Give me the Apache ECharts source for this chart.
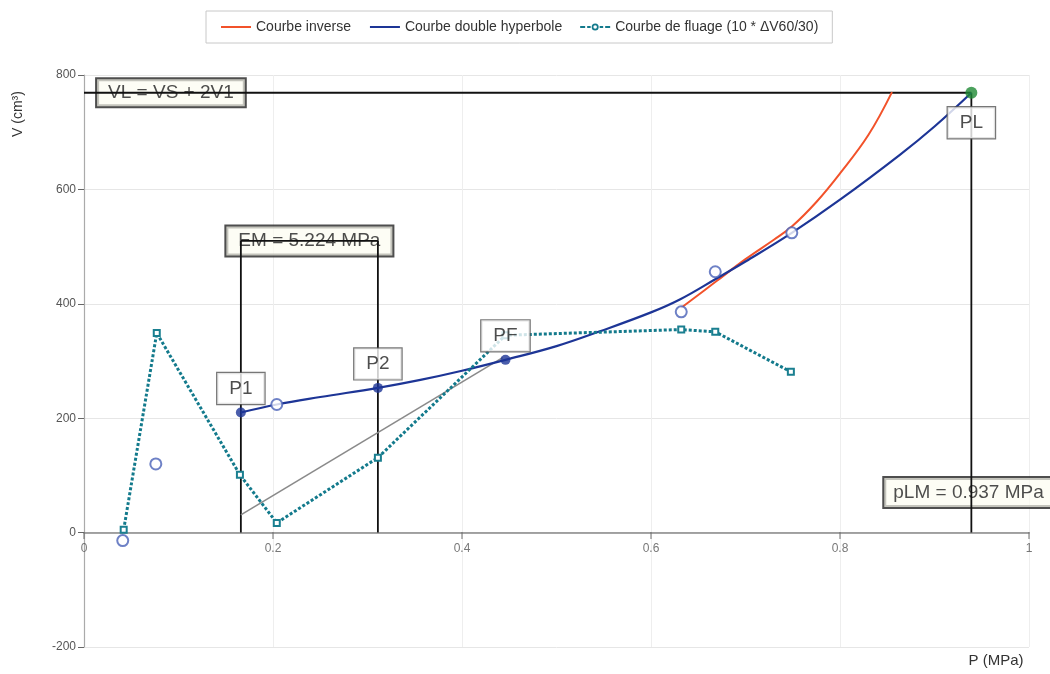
<!DOCTYPE html>
<html><head><meta charset="utf-8">
<script src="https://cdn.jsdelivr.net/npm/echarts@6/dist/echarts.min.js"></script>
<style>html,body{margin:0;padding:0;background:#fff}#c{width:1050px;height:674px}</style>
</head><body><div id="c"></div>
<script>
// ---- data ----
const xTicks = [0, 0.2, 0.4, 0.6, 0.8, 1];
const yTicks = [-200, 0, 200, 400, 600, 800];
const seriesNames = ['Courbe inverse', 'Courbe double hyperbole', 'Courbe de fluage (10 * ΔV60/30)'];

const inverseP = [0.632, 0.668, 0.70, 0.73, 0.749, 0.775, 0.80, 0.83, 0.855];
const inverseV = [393, 438, 478, 512, 535, 578, 628, 695, 770];

const hyperP = [0.166, 0.204, 0.25, 0.311, 0.356, 0.40, 0.446, 0.50, 0.546, 0.60, 0.631, 0.668, 0.70, 0.749, 0.80, 0.863, 0.90, 0.939];
const hyperV = [210, 224, 237, 253, 267, 283, 302, 326, 352, 385, 408, 443, 474, 524, 582, 660, 710, 769];

const fluageP = [0.042, 0.077, 0.165, 0.204, 0.311, 0.446, 0.632, 0.668, 0.748];
const fluageV = [5, 349, 101, 17, 131, 345, 355, 351, 281];

const measuredP = [0.041, 0.076, 0.204, 0.632, 0.668, 0.749];
const measuredV = [-14, 120, 224, 386, 456, 524];

const keyNames = ['P1', 'P2', 'PF'];
const keyP = [0.166, 0.311, 0.446];
const keyV = [210, 253, 302];

const plP = 0.939, plV = 769;
const emSlopeP = [0.166, 0.443];
const emSlopeV = [31, 306];
const emLevel = 510;
const emText = 'EM = 5.224 MPa';
const vlText = 'VL = VS + 2V1';
const plmText = 'pLM = 0.937 MPa';

// ---- chart ----
const zip = (a, b) => a.map((v, i) => [v, b[i]]);
const FONT = 'Liberation Sans, Arial, sans-serif';
const boxLabel = (extra) => Object.assign({
  show: true, color: '#222', fontSize: 19, fontFamily: FONT,
  backgroundColor: '#fff', borderColor: '#333', borderWidth: 1.2,
  padding: [6, 12]
}, extra);
const blackLine = { color: '#111', width: 1.8 };
const fluageIcon = 'path://M0,4H5V6H0Z M7,4H10.5V6H7Z M11.5,5A3.5,3.5 0 1,0 18.5,5A3.5,3.5 0 1,0 11.5,5Z M13.2,5A1.8,1.8 0 1,1 16.8,5A1.8,1.8 0 1,1 13.2,5Z M19.5,4H23V6H19.5Z M25,4H30V6H25Z';

const chart = echarts.init(document.getElementById('c'), null, { renderer: 'canvas' });
chart.setOption({
  animation: false,
  textStyle: { fontFamily: FONT },
  grid: { left: 84, right: 21, top: 75, bottom: 27 },
  legend: {
    top: 11, left: 206,
    data: [
      { name: seriesNames[0], itemStyle: { color: 'transparent', borderWidth: 0 } },
      { name: seriesNames[1], itemStyle: { color: 'transparent', borderWidth: 0 } },
      { name: seriesNames[2], icon: fluageIcon, itemStyle: { color: '#137a8c', borderWidth: 0 } }
    ],
    borderColor: '#c8c8c8', borderWidth: 1, padding: [9, 14, 9, 14], itemGap: 18,
    itemWidth: 30, itemHeight: 10,
    textStyle: { color: '#333', fontSize: 14, fontFamily: FONT }
  },
  xAxis: {
    type: 'value', min: xTicks[0], max: xTicks[xTicks.length - 1], interval: 0.2,
    axisLine: { onZero: true, lineStyle: { color: '#888', width: 1.5 } },
    axisTick: { show: false },
    axisLabel: { show: false },
    splitLine: { show: true, lineStyle: { color: '#eeeeee' } }
  },
  yAxis: {
    type: 'value', min: yTicks[0], max: yTicks[yTicks.length - 1], interval: 200,
    axisLine: { show: true, onZero: false, lineStyle: { color: '#aaa', width: 1.2 } },
    axisTick: { show: true, length: 6, lineStyle: { color: '#666' } },
    axisLabel: { color: '#555', fontSize: 12 },
    splitLine: { show: true, lineStyle: { color: '#e6e6e6' } }
  },
  graphic: [
    { type: 'text', x: 18, y: 114, rotation: Math.PI / 2,
      style: { text: 'V (cm³)', font: '14px ' + FONT, fill: '#333', textAlign: 'center', textVerticalAlign: 'middle' } },
    { type: 'text', x: 996, y: 661,
      style: { text: 'P (MPa)', font: '15px ' + FONT, fill: '#333', textAlign: 'center', textVerticalAlign: 'middle' } }
  ],
  series: [
    // x tick marks and labels on the zero line
    { type: 'scatter', z: 2, symbol: 'rect', symbolSize: [1.2, 7], symbolOffset: [0, 3], silent: true,
      itemStyle: { color: '#666' },
      data: xTicks.map(t => [t, 0]),
      label: { show: true, position: 'bottom', distance: 4, color: '#555', fontSize: 12,
        formatter: p => String(+p.value[0].toFixed(1)) } },

    // annotation boxes crossed by the reference lines
    { type: 'scatter', z: 1, symbolSize: 1, itemStyle: { color: 'transparent' }, silent: true,
      data: [
        { value: [(keyP[0] + keyP[1]) / 2, emLevel], name: emText, label: { padding: [5, 12] } },
        { value: [0.092, plV], name: vlText, label: { padding: [4, 11] } },
        { value: [plP - 0.003, 70], name: plmText, label: { padding: [5, 9] } }
      ],
      label: boxLabel({ position: 'inside', formatter: '{b}', backgroundColor: 'rgba(252,252,240,0.85)', borderColor: '#222', borderWidth: 2 }) },

    // reference lines
    { type: 'line', z: 3, symbol: 'none', silent: true, lineStyle: blackLine,
      data: [[0, plV], [plP, plV]] },
    { type: 'line', z: 3, symbol: 'none', silent: true, lineStyle: blackLine,
      data: [[plP, 0], [plP, plV]] },
    { type: 'line', z: 3, symbol: 'none', silent: true, lineStyle: blackLine,
      data: [[keyP[0], 0], [keyP[0], emLevel]] },
    { type: 'line', z: 3, symbol: 'none', silent: true, lineStyle: blackLine,
      data: [[keyP[1], 0], [keyP[1], emLevel]] },
    { type: 'line', z: 3, symbol: 'none', silent: true, lineStyle: blackLine,
      data: [[keyP[0], emLevel], [keyP[1], emLevel]] },
    { type: 'line', z: 3, symbol: 'none', silent: true, lineStyle: { color: '#8a8a8a', width: 1.6 },
      data: zip(emSlopeP, emSlopeV) },

    // curves
    { name: seriesNames[0], type: 'line', z: 4, smooth: 0.4, symbol: 'none',
      itemStyle: { color: '#f2522a' }, lineStyle: { color: '#f2522a', width: 2 },
      data: zip(inverseP, inverseV) },
    { name: seriesNames[1], type: 'line', z: 4, smooth: 0.4, symbol: 'none',
      itemStyle: { color: '#1d3596' }, lineStyle: { color: '#1d3596', width: 2.2 },
      data: zip(hyperP, hyperV) },
    { name: seriesNames[2], type: 'line', z: 4, symbol: 'emptyRect', symbolSize: 6,
      itemStyle: { color: '#1a7f90', borderWidth: 1.5 },
      lineStyle: { color: '#137a8c', width: 3, type: [3, 2] },
      data: zip(fluageP, fluageV) },

    // measured points
    { type: 'scatter', z: 5, symbol: 'emptyCircle', symbolSize: 11,
      itemStyle: { color: '#4a62b8', borderWidth: 1.5 },
      data: zip(measuredP, measuredV) },
    // key points
    { type: 'scatter', z: 6, symbol: 'circle', symbolSize: 10,
      itemStyle: { color: '#1d3596' },
      data: zip(keyP, keyV) },
    { type: 'scatter', z: 6, symbol: 'circle', symbolSize: 12,
      itemStyle: { color: '#1f8a35' },
      data: [[plP, plV]] },

    // key-point boxes (above the lines)
    { type: 'scatter', z: 7, symbolSize: 1, itemStyle: { color: 'transparent' }, silent: true,
      data: keyNames.map((n, i) => ({ value: [keyP[i], keyV[i]], name: n })),
      label: boxLabel({ position: 'top', distance: 8, formatter: '{b}', borderColor: '#555' }) },
    { type: 'scatter', z: 7, symbolSize: 1, itemStyle: { color: 'transparent' }, silent: true,
      data: [{ value: [plP, plV], name: 'PL' }],
      label: boxLabel({ position: 'bottom', distance: 14, formatter: '{b}', borderColor: '#555' }) }
  ]
});
</script></body></html>
